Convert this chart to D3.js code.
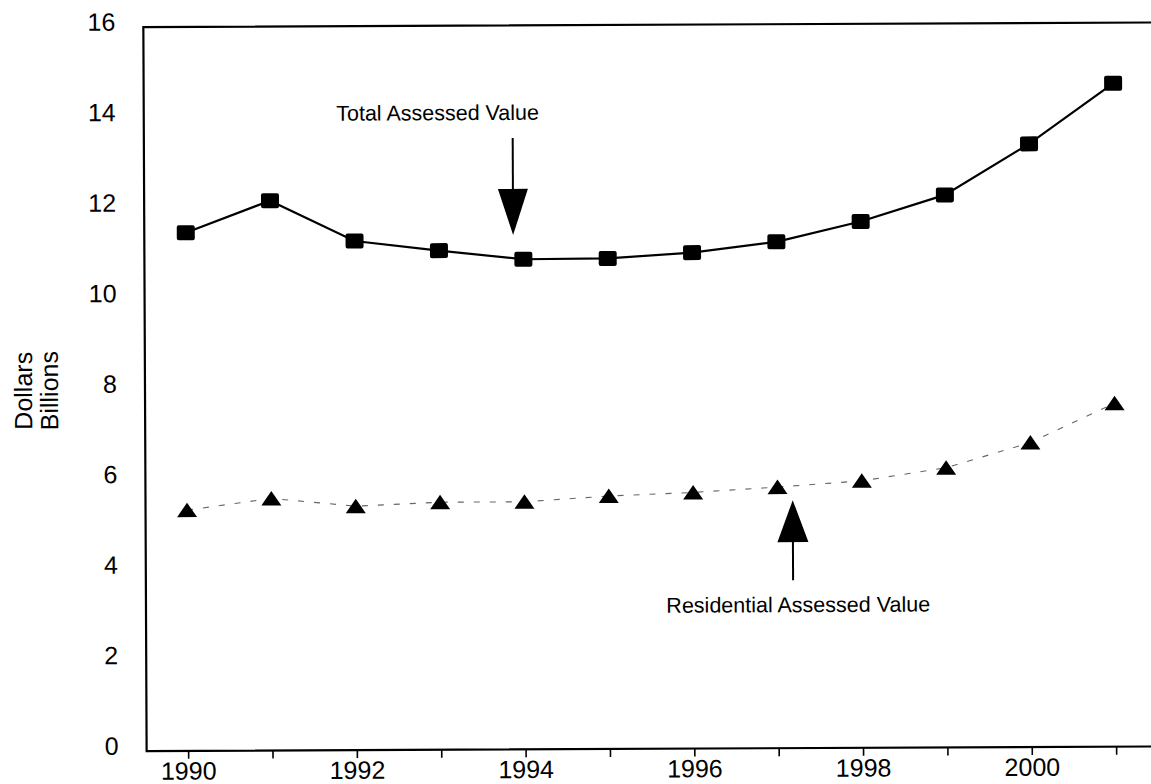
<!DOCTYPE html>
<html lang="en">
<head>
    <meta charset="UTF-8">
    <title>Assessed Value 1990-2001</title>
    <style>
        body { margin: 0; background: #fff; overflow: hidden; }
        #chart { width: 1151px; height: 784px; display: block; background: #fff; }
        text { font-family: Arial, "Liberation Sans", Helvetica, sans-serif; fill: #000; }
        .tick-label { font-size: 25px; }
        .note { font-size: 21.5px; }
    </style>
</head>
<body>
    <svg id="chart" width="1151" height="784"></svg>
    <script src="https://d3js.org/d3.v7.min.js"></script>
    <script>
        // Data (billions of dollars)
        const years = [1990, 1991, 1992, 1993, 1994, 1995, 1996, 1997, 1998, 1999, 2000, 2001];
        const totalValue = [11.45, 12.15, 11.25, 11.03, 10.83, 10.84, 10.96, 11.19, 11.63, 12.21, 13.33, 14.66];
        const residentialValue = [5.32, 5.57, 5.39, 5.47, 5.47, 5.59, 5.66, 5.77, 5.90, 6.18, 6.73, 7.59];
        const yTicks = [0, 2, 4, 6, 8, 10, 12, 14, 16];
        const xTickYears = [1990, 1991, 1992, 1993, 1994, 1995, 1996, 1997, 1998, 1999, 2000, 2001];
        const xLabelYears = [1990, 1992, 1994, 1996, 1998, 2000];
        const yTitle = ["Dollars", "Billions"];

        const plotLeft = 145, plotTop = 24.8, plotBottom = 748.8, plotRight = 1170;

        const svg = d3.select("#chart");
        // the original is a slightly skewed scan, so the whole plot is turned a hair
        const g = svg.append("g").attr("transform", "rotate(-0.26, 640, 390)");

        const x = d3.scaleLinear().domain([1990, 2001]).range([186.5, 1114.5]);
        const y = d3.scaleLinear().domain([0, 16]).range([plotBottom, plotTop]);

        // frame: left, top, bottom (right side runs off the page)
        g.append("path")
            .attr("d", `M${plotRight},${plotTop} L${plotLeft},${plotTop} L${plotLeft},${plotBottom} L${plotRight},${plotBottom}`)
            .attr("fill", "none")
            .attr("stroke", "#000")
            .attr("stroke-width", 2.2);

        // y axis labels
        const yAxis = g.append("g")
            .attr("transform", `translate(${plotLeft},0)`)
            .call(d3.axisLeft(y).tickValues(yTicks).tickSize(0).tickPadding(28).tickFormat(d3.format("d")));
        yAxis.select(".domain").remove();
        yAxis.attr("font-family", null).attr("font-size", null);
        yAxis.selectAll("text")
            .attr("class", "tick-label")
            .attr("dy", "0.12em");

        // x axis ticks every year, labels every other year
        const xAxis = g.append("g")
            .attr("transform", `translate(0,${plotBottom})`)
            .call(d3.axisBottom(x).tickValues(xTickYears).tickSize(8).tickPadding(3)
                .tickFormat(d => xLabelYears.includes(d) ? String(d) : ""));
        xAxis.select(".domain").remove();
        xAxis.attr("font-family", null).attr("font-size", null);
        xAxis.selectAll("line").attr("stroke", "#000").attr("stroke-width", 1.6);
        xAxis.selectAll("text").attr("class", "tick-label");

        // y axis title, two rotated lines
        g.selectAll(".y-title")
            .data(yTitle)
            .enter().append("text")
            .attr("class", "y-title")
            .attr("text-anchor", "middle")
            .attr("transform", (d, i) => `translate(${32 + i * 26},388) rotate(-90)`)
            .style("font-size", "25px")
            .text(d => d);

        // residential series: faint dashed line with triangles
        const resPts = years.map((yr, i) => [x(yr), y(residentialValue[i])]);
        g.append("path")
            .attr("d", d3.line()(resPts))
            .attr("fill", "none")
            .attr("stroke", "#666")
            .attr("stroke-width", 1.1)
            .attr("stroke-dasharray", "6,10");

        g.selectAll(".tri")
            .data(resPts)
            .enter().append("path")
            .attr("class", "tri")
            .attr("d", d => `M${d[0]},${d[1] - 7.5} L${d[0] + 10},${d[1] + 7} L${d[0] - 10},${d[1] + 7} Z`)
            .attr("fill", "#000");

        // total series: solid line with squares
        const totPts = years.map((yr, i) => [x(yr), y(totalValue[i])]);
        g.append("path")
            .attr("d", d3.line()(totPts))
            .attr("fill", "none")
            .attr("stroke", "#000")
            .attr("stroke-width", 2.2);

        g.selectAll(".sq")
            .data(totPts)
            .enter().append("rect")
            .attr("class", "sq")
            .attr("x", d => d[0] - 9)
            .attr("y", d => d[1] - 7.5)
            .attr("width", 18)
            .attr("height", 15)
            .attr("rx", 2)
            .attr("fill", "#000");

        // annotation: Total Assessed Value, arrow pointing down
        const tA = { x: x(1993.88), y: y(11.37) };
        g.append("text")
            .attr("class", "note")
            .attr("x", tA.x - 75)
            .attr("y", tA.y - 115)
            .attr("text-anchor", "middle")
            .text("Total Assessed Value");
        g.append("line")
            .attr("x1", tA.x).attr("x2", tA.x)
            .attr("y1", tA.y - 97).attr("y2", tA.y - 44)
            .attr("stroke", "#000").attr("stroke-width", 2);
        g.append("path")
            .attr("d", `M${tA.x},${tA.y} L${tA.x - 15},${tA.y - 46} L${tA.x + 15},${tA.y - 46} Z`)
            .attr("fill", "#000");

        // annotation: Residential Assessed Value, arrow pointing up
        const rA = { x: x(1997.18), y: y(5.48) };
        g.append("path")
            .attr("d", `M${rA.x},${rA.y} L${rA.x + 15.5},${rA.y + 42} L${rA.x - 15.5},${rA.y + 42} Z`)
            .attr("fill", "#000");
        g.append("line")
            .attr("x1", rA.x).attr("x2", rA.x)
            .attr("y1", rA.y + 40).attr("y2", rA.y + 80)
            .attr("stroke", "#000").attr("stroke-width", 2);
        g.append("text")
            .attr("class", "note")
            .attr("x", rA.x + 5)
            .attr("y", rA.y + 112)
            .attr("text-anchor", "middle")
            .text("Residential Assessed Value");
    </script>
</body>
</html>
